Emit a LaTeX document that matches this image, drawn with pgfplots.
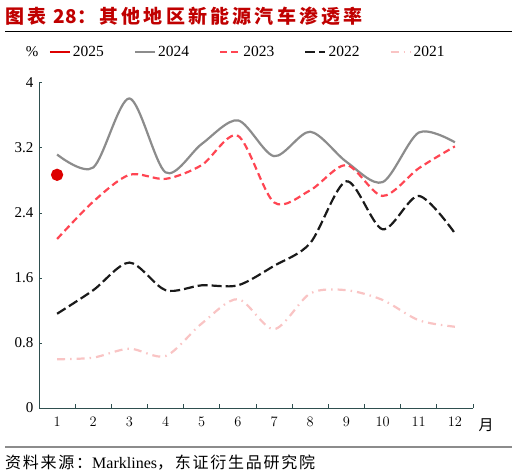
\documentclass[border=0pt]{standalone}
\usepackage{fontspec}
\usepackage{pgfplots}
\pgfplotsset{compat=1.18}
\setmainfont{Liberation Serif}
\newfontfamily\cjk{Noto Sans CJK SC}
\newfontfamily\cjkt[LetterSpace=17]{Noto Sans CJK SC}
\newfontfamily\cjks[LetterSpace=11]{Noto Sans CJK SC}

\definecolor{titlered}{HTML}{C00000}
\definecolor{c25}{HTML}{DD0000}
\definecolor{c24}{HTML}{8C8C8C}
\definecolor{c23}{HTML}{FF4552}
\definecolor{c22}{HTML}{1A1A1A}
\definecolor{c21}{HTML}{F9C4C4}
\definecolor{axiscol}{HTML}{2F4F4F}

\begin{document}
\begin{tikzpicture}
  \useasboundingbox (0,0) rectangle (517pt,-476pt);
  % title and rules
  \node[anchor=west, inner sep=0pt, text=titlered, font=\fontsize{19}{21}\cjkt\bfseries]
    at (5pt,-16pt) {图表 {\cjk\bfseries 28}：其他地区新能源汽车渗透率};
  \draw[line width=1pt] (5pt,-32pt) -- (512pt,-32pt);
  \draw[line width=1.2pt, c24] (5pt,-447pt) -- (512pt,-447pt);
  \node[anchor=west, inner sep=0pt, font=\fontsize{16}{18}\selectfont]
    at (5pt,-463pt) {{\cjks 资料来源：}Marklines{\cjks ，东证衍生品研究院}};
  \node[anchor=center, inner sep=0pt, font=\fontsize{15}{17}\cjk] at (486pt,-425pt) {月};
  \node[anchor=center, inner sep=0pt, font=\fontsize{15}{17}\selectfont] at (32pt,-52pt) {\%};

  \begin{axis}[
      at={(39pt,-408pt)}, anchor=south west,
      scale only axis, width=434pt, height=325pt,
      xmin=0.5, xmax=12.5, ymin=0, ymax=4,
      axis x line*=bottom, axis y line*=left,
      axis line style={axiscol, line width=1pt, -},
      xtick={1,...,12}, major x tick style={draw=none},
      minor xtick={0.5,1.5,...,12.5},
      minor tick length=4pt,
      minor x tick style={axiscol, line width=1pt},
      ytick={0,0.8,1.6,2.4,3.2,4},
      yticklabels={0,0.8,1.6,2.4,3.2,4},
      major tick length=3pt,
      tick align=inside,
      y tick style={axiscol, line width=1pt},
      tick label style={font=\fontsize{15}{17}\selectfont},
      xticklabel style={yshift=-6pt},
      yticklabel style={xshift=-2pt},
      clip=false,
      legend columns=5,
      legend style={draw=none, fill=none, at={(0.022,1.095)}, anchor=west,
        font=\fontsize{15.5}{17}\selectfont,
        /tikz/every even column/.append style={column sep=28pt},
        inner sep=0pt},
      legend cell align=left,
      legend image code/.code={\draw[#1] (0pt,0pt) -- (20pt,0pt);},
      every axis plot/.append style={line width=2.2pt},
    ]
    \addlegendimage{c25, line width=2.2pt}
    \addlegendentry{2025}

    \addplot[c24, smooth] coordinates {
      (1,3.12) (2,2.96) (3,3.81) (4,2.90) (5,3.25) (6,3.54)
      (7,3.10) (8,3.40) (9,3.03) (10,2.78) (11,3.39) (12,3.27)};
    \addlegendentry{2024}

    \addplot[c23, smooth, dash pattern=on 7pt off 4pt] coordinates {
      (1,2.08) (2,2.54) (3,2.87) (4,2.82) (5,2.99) (6,3.35)
      (7,2.53) (8,2.68) (9,2.99) (10,2.61) (11,2.95) (12,3.22)};
    \addlegendentry{2023}

    \addplot[c22, smooth, dash pattern=on 10pt off 4pt] coordinates {
      (1,1.16) (2,1.45) (3,1.79) (4,1.45) (5,1.51) (6,1.51)
      (7,1.75) (8,2.03) (9,2.79) (10,2.20) (11,2.61) (12,2.15)};
    \addlegendentry{2022}

    \addplot[c21, smooth, dash pattern=on 8pt off 5pt on 1.5pt off 5pt] coordinates {
      (1,0.60) (2,0.62) (3,0.73) (4,0.64) (5,1.04) (6,1.34)
      (7,0.97) (8,1.41) (9,1.45) (10,1.33) (11,1.08) (12,1.00)};
    \addlegendentry{2021}

    \addplot[c25, only marks, mark=*, mark size=5pt, forget plot] coordinates {(1,2.87)};
  \end{axis}
\end{tikzpicture}
\end{document}
